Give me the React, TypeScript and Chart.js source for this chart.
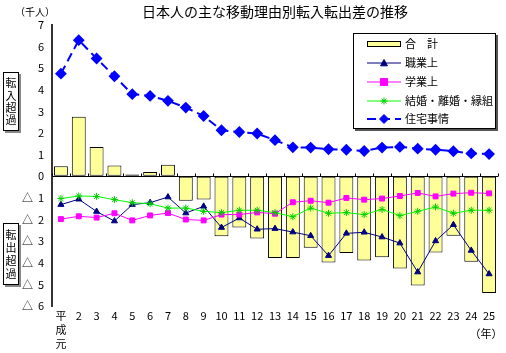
import React, { useEffect, useRef } from "react";
import { Chart, registerables } from "chart.js";
Chart.register(...registerables);

const categories: (string | string[])[] = [["平", "成", "元"], "2", "3", "4", "5", "6", "7", "8", "9", "10", "11", "12", "13", "14", "15", "16", "17", "18", "19", "20", "21", "22", "23", "24", "25"];
const totalValues = [0.46, 2.75, 1.36, 0.5, 0.08, 0.2, 0.54, -1.13, -1.07, -2.77, -2.37, -2.88, -3.78, -3.78, -3.3, -3.99, -3.55, -3.89, -3.75, -4.26, -5.05, -3.52, -2.75, -3.95, -5.4];
const jobValues = [-1.31, -1.06, -1.63, -2.07, -1.31, -1.22, -0.96, -1.7, -1.39, -2.37, -1.93, -2.45, -2.42, -2.58, -2.75, -3.67, -2.64, -2.59, -2.81, -3.09, -4.43, -2.99, -2.24, -3.43, -4.52];
const studyValues = [-1.98, -1.85, -1.91, -1.71, -2.04, -1.81, -1.7, -2.0, -2.04, -1.77, -1.77, -1.67, -1.73, -1.2, -1.13, -1.22, -1.0, -1.08, -1.03, -0.91, -0.77, -0.93, -0.8, -0.76, -0.79];
const marriageValues = [-1.03, -0.91, -0.93, -1.08, -1.22, -1.27, -1.47, -1.47, -1.62, -1.68, -1.57, -1.57, -1.68, -1.87, -1.47, -1.71, -1.68, -1.77, -1.53, -1.82, -1.62, -1.42, -1.71, -1.57, -1.57];
const housingValues = [4.75, 6.3, 5.45, 4.63, 3.8, 3.72, 3.49, 3.18, 2.79, 2.13, 2.05, 1.98, 1.67, 1.34, 1.33, 1.25, 1.23, 1.17, 1.33, 1.36, 1.28, 1.23, 1.16, 1.06, 1.03];
const seriesNames = ["合　計", "職業上", "学業上", "結婚・離婚・縁組", "住宅事情"];
const titleText = "日本人の主な移動理由別転入転出差の推移";
const unitText = "（千人）";
const yearText = "（年）";
const inLabel = ["転", "入", "超", "過"];
const outLabel = ["転", "出", "超", "過"];

const FONT = "'Noto Sans CJK JP', 'Liberation Sans', sans-serif";

function drawPoint(ctx: any, style: string, r: number, x: number, y: number, fill: string, stroke: string) {
  ctx.fillStyle = fill;
  ctx.strokeStyle = stroke;
  ctx.lineWidth = 1;
  ctx.beginPath();
  if (style === "triangle") {
    ctx.moveTo(x, y - r);
    ctx.lineTo(x + r, y + r * 0.8);
    ctx.lineTo(x - r, y + r * 0.8);
    ctx.closePath();
    ctx.fill();
    ctx.stroke();
  } else if (style === "rect") {
    ctx.rect(x - r, y - r, 2 * r, 2 * r);
    ctx.fill();
    ctx.stroke();
  } else if (style === "rectRot") {
    ctx.moveTo(x, y - r);
    ctx.lineTo(x + r, y);
    ctx.lineTo(x, y + r);
    ctx.lineTo(x - r, y);
    ctx.closePath();
    ctx.fill();
    ctx.stroke();
  } else {
    ctx.moveTo(x - r, y);
    ctx.lineTo(x + r, y);
    ctx.moveTo(x, y - r);
    ctx.lineTo(x, y + r);
    ctx.moveTo(x - r * 0.7, y - r * 0.7);
    ctx.lineTo(x + r * 0.7, y + r * 0.7);
    ctx.moveTo(x - r * 0.7, y + r * 0.7);
    ctx.lineTo(x + r * 0.7, y - r * 0.7);
    ctx.stroke();
  }
}

const extras = {
  id: "extras",
  afterDraw(chart: any) {
    const ctx = chart.ctx;
    const area = chart.chartArea;
    const ys = chart.scales.y;
    const zeroY = Math.round(ys.getPixelForValue(0)) + 0.5;
    ctx.save();
    ctx.strokeStyle = "#000";
    ctx.lineWidth = 1;
    const n = categories.length;
    for (let i = 0; i <= n; i++) {
      const x = Math.round(area.left + (i * (area.right - area.left)) / n) + 0.5;
      ctx.beginPath();
      ctx.moveTo(x, zeroY - 3);
      ctx.lineTo(x, zeroY);
      ctx.stroke();
    }
    ctx.fillStyle = "#000";
    ctx.font = `14px ${FONT}`;
    ctx.textAlign = "center";
    ctx.textBaseline = "middle";
    ctx.fillText(titleText, 275, 12);
    ctx.font = `10px ${FONT}`;
    ctx.fillText(unitText, 35, 12);
    ctx.font = `11px ${FONT}`;
    ctx.fillText(yearText, 486, 334);
    const sideBox = (top: number, bottom: number, chars: string[]) => {
      ctx.fillStyle = "#888";
      ctx.fillRect(5, top + 2, 16, bottom - top);
      ctx.fillStyle = "#fff";
      ctx.fillRect(3, top, 16, bottom - top);
      ctx.strokeStyle = "#000";
      ctx.lineWidth = 1;
      ctx.strokeRect(3.5, top + 0.5, 15, bottom - top - 1);
      ctx.fillStyle = "#000";
      ctx.font = `11px ${FONT}`;
      ctx.textAlign = "center";
      ctx.textBaseline = "middle";
      const step = (bottom - top - 10) / chars.length;
      chars.forEach((c, i) => ctx.fillText(c, 11, top + 5 + step * (i + 0.5)));
    };
    sideBox(72, 131, inLabel);
    sideBox(223, 285, outLabel);
    const lx = 353, ly = 33, lw = 143, lh = 96;
    ctx.fillStyle = "#555";
    ctx.fillRect(lx + 2, ly + 2, lw, lh);
    ctx.fillStyle = "#fff";
    ctx.fillRect(lx, ly, lw, lh);
    ctx.strokeStyle = "#000";
    ctx.strokeRect(lx + 0.5, ly + 0.5, lw - 1, lh - 1);
    const rows = [44, 63, 82, 101, 119];
    rows.forEach((ry, i) => {
      const x0 = 367, x1 = 401, xm = 384;
      if (i === 0) {
        ctx.fillStyle = "#FFFF99";
        ctx.fillRect(x0, ry - 3, x1 - x0, 6);
        ctx.strokeStyle = "#000";
        ctx.lineWidth = 1;
        ctx.strokeRect(x0 + 0.5, ry - 2.5, x1 - x0 - 1, 5);
      } else {
        const ds = chart.data.datasets[i];
        ctx.strokeStyle = ds.borderColor;
        ctx.lineWidth = ds.borderWidth;
        ctx.setLineDash(ds.borderDash || []);
        ctx.beginPath();
        ctx.moveTo(x0, ry);
        ctx.lineTo(x1, ry);
        ctx.stroke();
        ctx.setLineDash([]);
        drawPoint(ctx, ds.pointStyle, ds.pointRadius, xm, ry, ds.pointBackgroundColor, ds.pointBorderColor);
      }
      ctx.fillStyle = "#000";
      ctx.font = `11px ${FONT}`;
      ctx.textAlign = "left";
      ctx.textBaseline = "middle";
      ctx.fillText(seriesNames[i], 405, ry);
    });
    ctx.restore();
  },
};

export default function App() {
  const ref = useRef<HTMLCanvasElement>(null);
  useEffect(() => {
    document.body.style.margin = "0";
    const chart = new Chart(ref.current!, {
      type: "bar",
      data: {
        labels: categories,
        datasets: [
          {
            type: "bar",
            label: seriesNames[0],
            data: totalValues,
            backgroundColor: "#FFFF99",
            borderColor: "#000",
            borderWidth: 1,
            borderSkipped: false,
            barPercentage: 0.78,
            categoryPercentage: 1,
            order: 10,
          } as any,
          {
            type: "line",
            label: seriesNames[1],
            data: jobValues,
            borderColor: "#000080",
            backgroundColor: "#000080",
            borderWidth: 1,
            pointStyle: "triangle",
            pointRadius: 3.5,
            pointBackgroundColor: "#000080",
            pointBorderColor: "#000080",
            tension: 0,
            order: 4,
          },
          {
            type: "line",
            label: seriesNames[2],
            data: studyValues,
            borderColor: "#FF00FF",
            backgroundColor: "#FF00FF",
            borderWidth: 1,
            pointStyle: "rect",
            pointRadius: 3.5,
            pointBackgroundColor: "#FF00FF",
            pointBorderColor: "#FF00FF",
            tension: 0,
            order: 3,
          },
          {
            type: "line",
            label: seriesNames[3],
            data: marriageValues,
            borderColor: "#00FF00",
            backgroundColor: "#00FF00",
            borderWidth: 1,
            pointStyle: "star",
            pointRadius: 3.5,
            pointBackgroundColor: "#00FF00",
            pointBorderColor: "#00CC00",
            tension: 0,
            order: 2,
          },
          {
            type: "line",
            label: seriesNames[4],
            data: housingValues,
            borderColor: "#0000FF",
            backgroundColor: "#0000FF",
            borderWidth: 2,
            borderDash: [9, 5],
            pointStyle: "rectRot",
            pointRadius: 4.5,
            pointBackgroundColor: "#0000FF",
            pointBorderColor: "#0000FF",
            tension: 0,
            order: 1,
          },
        ],
      },
      options: {
        animation: false,
        responsive: false,
        maintainAspectRatio: false,
        layout: { padding: { left: 0, top: 25, right: 8, bottom: 0 } },
        plugins: { legend: { display: false }, tooltip: { enabled: false }, title: { display: false } },
        scales: {
          x: {
            offset: true,
            grid: { display: false, drawTicks: false },
            border: { display: false },
            ticks: {
              color: "#000",
              padding: 3,
              maxRotation: 0,
              autoSkip: false,
              font: { size: 11, family: FONT, lineHeight: 1.25 },
            },
            afterFit: (s: any) => {
              s.height = 47;
            },
          },
          y: {
            min: -6,
            max: 7,
            ticks: {
              stepSize: 1,
              color: "#000",
              padding: 8,
              font: { size: 11, family: FONT },
              callback: (v: any) => (v < 0 ? `△  ${-v}` : `${v}`),
            },
            grid: {
              drawTicks: false,
              color: (c: any) => (c.tick && c.tick.value === 0 ? "#000" : "rgba(0,0,0,0)"),
              lineWidth: 1,
            },
            border: { display: true, color: "#333", width: 2 },
            afterFit: (s: any) => {
              s.width = 52;
            },
          },
        },
      },
      plugins: [extras],
    });
    return () => chart.destroy();
  }, []);
  return <canvas ref={ref} width={506} height={353} style={{ display: "block" }} />;
}
